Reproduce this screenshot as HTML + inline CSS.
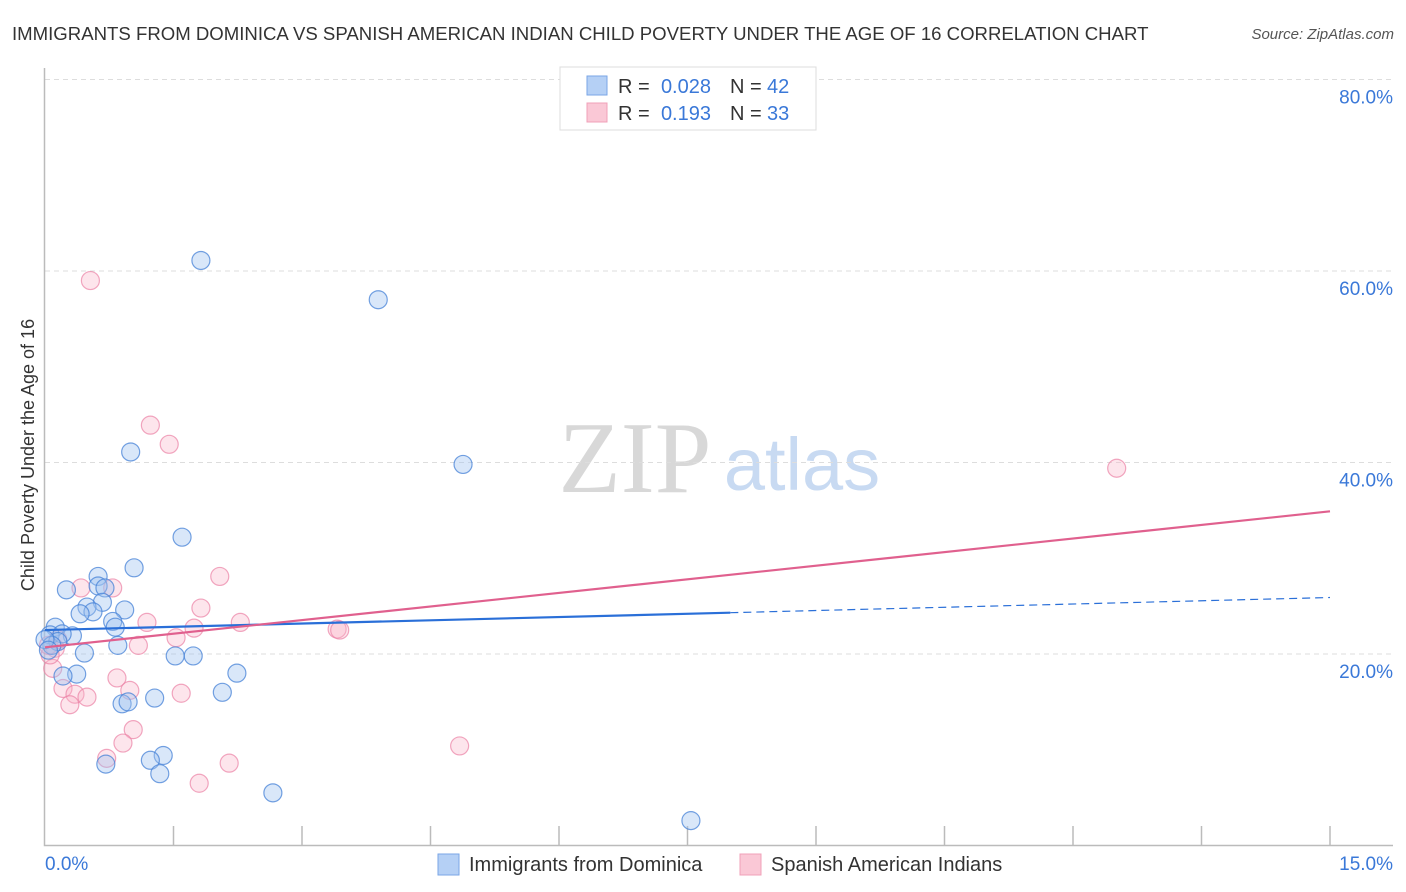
<!DOCTYPE html>
<html><head><meta charset="utf-8"><style>
body{margin:0;background:#fff;font-family:"Liberation Sans",sans-serif}
svg{display:block}
</style></head><body>
<svg id="c" width="1406" height="892">
<text x="12" y="40" font-size="18.6" fill="#333">IMMIGRANTS FROM DOMINICA VS SPANISH AMERICAN INDIAN CHILD POVERTY UNDER THE AGE OF 16 CORRELATION CHART</text>
<text x="1394" y="39" font-size="15" font-style="italic" fill="#555" text-anchor="end">Source: ZipAtlas.com</text>
<text x="635" y="492" font-size="102" font-family="Liberation Serif,serif" fill="#d8d8d8" text-anchor="middle">ZIP</text>
<text x="802" y="490" font-size="74" fill="#c8daf2" text-anchor="middle">atlas</text>
<text transform="translate(34,455) rotate(-90)" font-size="18" fill="#333" text-anchor="middle">Child Poverty Under the Age of 16</text>
<g id="grid"></g><g id="marks"></g>
<g>
<rect x="560" y="67" width="256" height="63" fill="#fff" stroke="#ddd"/>
<rect x="587" y="76" width="20" height="19" fill="#b5d0f5" stroke="#7aa6e6"/>
<rect x="587" y="103" width="20" height="19" fill="#fac8d6" stroke="#f0a0b8"/>
<text x="618" y="93" font-size="20" fill="#333">R =</text>
<text x="711" y="93" font-size="20" fill="#3a78d8" text-anchor="end">0.028</text>
<text x="730" y="93" font-size="20" fill="#333">N =</text>
<text x="767" y="93" font-size="20" fill="#3a78d8">42</text>
<text x="618" y="120" font-size="20" fill="#333">R =</text>
<text x="711" y="120" font-size="20" fill="#3a78d8" text-anchor="end">0.193</text>
<text x="730" y="120" font-size="20" fill="#333">N =</text>
<text x="767" y="120" font-size="20" fill="#3a78d8">33</text>
</g>
<g>
<rect x="438" y="854" width="21" height="21" fill="#b5d0f5" stroke="#7aa6e6"/>
<text x="469" y="871" font-size="20" fill="#333">Immigrants from Dominica</text>
<rect x="740" y="854" width="21" height="21" fill="#fac8d6" stroke="#f0a0b8"/>
<text x="771" y="871" font-size="20" fill="#333">Spanish American Indians</text>
</g>
</svg>
<script>
const xTicks=[0,1.5,3,4.5,6,7.5,9,10.5,12,13.5,15];
const yTicks=[20,40,60,80];
const blueX=[1.82,3.89,1.00,4.88,1.60,1.04,0.25,0.62,0.62,0.70,0.67,0.49,0.56,0.41,0.93,0.79,0.82,0.12,0.06,0.32,0.20,0.15,0.08,0.85,0.46,1.52,1.73,2.24,0.37,0.21,2.07,1.28,0.90,0.97,1.38,1.23,0.71,1.34,2.66,7.54,0.0,0.04];
const blueY=[61.1,57.0,41.1,39.8,32.2,29.0,26.7,28.1,27.1,26.9,25.4,24.9,24.4,24.2,24.6,23.4,22.8,22.8,22.0,21.9,22.1,21.3,20.9,20.9,20.1,19.8,19.8,18.0,17.9,17.7,16.0,15.4,14.8,15.0,9.4,8.9,8.5,7.5,5.5,2.6,21.5,20.4];
const pinkX=[0.53,1.23,1.45,12.51,2.04,0.42,0.79,1.82,1.19,2.28,1.74,3.41,3.44,1.53,1.09,0.12,0.09,0.84,0.21,0.99,0.35,0.49,1.59,0.29,1.03,0.91,4.84,0.72,2.15,1.80,0.06,0.04,0.15];
const pinkY=[59.0,43.9,41.9,39.4,28.1,26.9,26.9,24.8,23.3,23.3,22.7,22.6,22.5,21.7,20.9,20.6,18.5,17.5,16.4,16.2,15.8,15.5,15.9,14.7,12.1,10.7,10.4,9.1,8.6,6.5,19.9,20.9,21.5];
const blueTrend=[22.5,25.9];const blueSolidEnd=8.0;
const pinkTrend=[20.7,34.9];
const X=v=>45+v/15*1285, Y=v=>654-(v-20)*9.575;
const NS='http://www.w3.org/2000/svg';
function mk(t,a,p){const e=document.createElementNS(NS,t);for(const k in a)e.setAttribute(k,a[k]);p.appendChild(e);return e;}
const g=document.getElementById('grid'),m=document.getElementById('marks');
yTicks.forEach(t=>{
 const l=mk('line',{x1:45,x2:1393,y1:Y(t),y2:Y(t),stroke:'#ddd','stroke-dasharray':'5,4'},g);
 
 
 const tx=mk('text',{x:1393,y:Y(t)+24,'font-size':19,fill:'#3a78d8','text-anchor':'end'},g);tx.textContent=t.toFixed(1)+'%';
 
 
});
const ax=mk('path',{d:'M44.5,68V845.5H1393',stroke:'#bbb',fill:'none','stroke-width':1.5},g);


xTicks.slice(1).forEach(t=>{const l=mk('line',{x1:X(t),x2:X(t),y1:826,y2:845,stroke:'#bbb','stroke-width':1.5},g);
 
 });
[[0,'start',45],[15,'end',1393]].forEach(([v,a,x])=>{const tx=mk('text',{x:x,y:870,'font-size':19,fill:'#3a78d8','text-anchor':a},g);tx.textContent=v.toFixed(1)+'%';
 
 });
function pts(xs,ys,fill,stroke,name){xs.forEach((x,i)=>{const c=mk('circle',{cx:X(x),cy:Y(ys[i]),r:9,fill:fill,stroke:stroke,'stroke-width':1.2},m);
 
 });}
pts(pinkX,pinkY,'rgba(248,180,200,0.35)','rgba(235,130,165,0.7)','pink-point');
pts(blueX,blueY,'rgba(160,196,240,0.4)','rgba(70,130,215,0.75)','blue-point');
const by=x=>blueTrend[0]+(blueTrend[1]-blueTrend[0])*x/15;
const b1=mk('line',{x1:X(0),y1:Y(by(0)),x2:X(blueSolidEnd),y2:Y(by(blueSolidEnd)),stroke:'#2a6fd8','stroke-width':2.2},m);


const b2=mk('line',{x1:X(blueSolidEnd),y1:Y(by(blueSolidEnd)),x2:X(15),y2:Y(by(15)),stroke:'#2a6fd8','stroke-width':1.2,'stroke-dasharray':'8,5'},m);


const p1=mk('line',{x1:X(0),y1:Y(pinkTrend[0]),x2:X(15),y2:Y(pinkTrend[1]),stroke:'#e0608e','stroke-width':2.2},m);


</script>
</body></html>
